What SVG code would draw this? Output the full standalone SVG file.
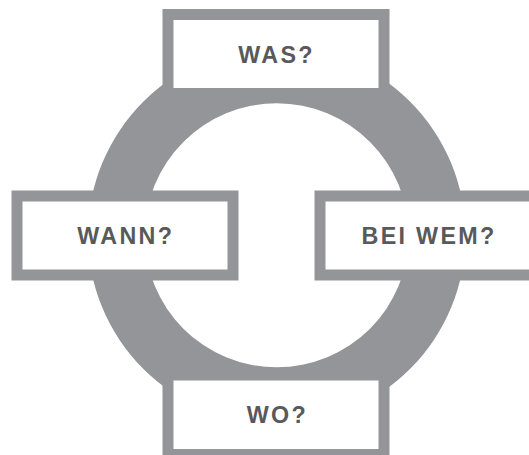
<svg xmlns="http://www.w3.org/2000/svg" width="529" height="455" viewBox="0 0 529 455">
  <style>
    .frame { fill: #939598; }
    .inner { fill: #ffffff; }
    .ring { fill: #939598; fill-rule: evenodd; }
    .label { font-family: "Liberation Sans", Arial, sans-serif; font-weight: bold; font-size: 23.3px; letter-spacing: 2.3px; fill: #58595b; }
  </style>
  <rect width="529" height="455" fill="#ffffff"/>
  <g id="connectors">
    <path class="ring" d="M 87.9 235.3 A 188.8 188.8 0 1 0 465.5 235.3 A 188.8 188.8 0 1 0 87.9 235.3 Z M 144.7 235.3 A 132 132 0 1 1 408.7 235.3 A 132 132 0 1 1 144.7 235.3 Z"/>
  </g>
  <g id="node-was">
    <rect class="frame" x="162.5" y="9" width="227" height="90"/>
    <rect class="inner" x="173.5" y="20" width="205" height="68"/>
    <text class="label" x="238.3" y="63.3">WAS?</text>
  </g>
  <g id="node-wann">
    <rect class="frame" x="11.5" y="190.5" width="227" height="90"/>
    <rect class="inner" x="22.5" y="201.5" width="205" height="68"/>
    <text class="label" x="77.3" y="244.2">WANN?</text>
  </g>
  <g id="node-bei-wem">
    <rect class="frame" x="314.5" y="190.5" width="227" height="90"/>
    <rect class="inner" x="325.5" y="201.5" width="205" height="68"/>
    <text class="label" x="361.6" y="244.3">BEI WEM?</text>
  </g>
  <g id="node-wo">
    <rect class="frame" x="162.5" y="369.5" width="227" height="90"/>
    <rect class="inner" x="173.5" y="380.5" width="205" height="68.5"/>
    <text class="label" x="246.7" y="423.3">WO?</text>
  </g>
</svg>
